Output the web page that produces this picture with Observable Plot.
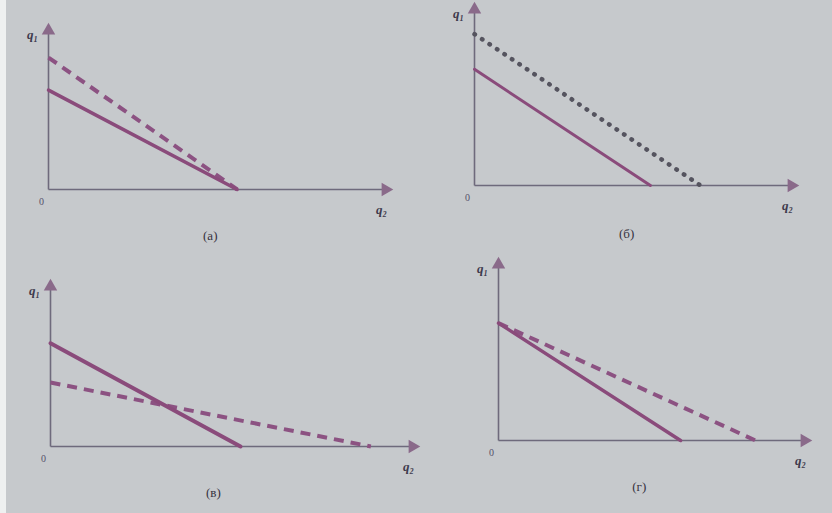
<!DOCTYPE html>
<html>
<head>
<meta charset="utf-8">
<script src="https://cdn.jsdelivr.net/npm/d3@7"></script>
<script src="https://cdn.jsdelivr.net/npm/@observablehq/plot@0.6"></script>
<style>
  html, body { margin: 0; padding: 0; }
  body { width: 832px; height: 513px; background: #c6c9cc; position: relative; overflow: hidden; }
  #edge { position: absolute; left: 0; top: 0; width: 6px; height: 513px; background: #eef0f0; }
  .panel { position: absolute; width: 416px; height: 257px; }
  .panel svg { background: transparent !important; overflow: visible; }
</style>
</head>
<body>
<div id="edge"></div>
<div id="p0" class="panel" style="left:0;top:0"></div>
<div id="p1" class="panel" style="left:416px;top:0"></div>
<div id="p2" class="panel" style="left:0;top:256px"></div>
<div id="p3" class="panel" style="left:416px;top:256px"></div>
<script>
// ---- data (axis units: 0..10 on both axes) ----
const panelLabels = ["(а)", "(б)", "(в)", "(г)"];
const solidQ1 = [6.25, 6.6, 6.45, 6.67];   // q1-intercept of solid line
const solidQ2 = [5.6, 5.55, 5.25, 5.95];   // q2-intercept of solid line
const altQ1   = [8.3, 8.6, 4.0, 6.67];     // q1-intercept of broken line
const altQ2   = [5.6, 7.13, 8.85, 8.4];    // q2-intercept of broken line
const altKind = ["dashed", "dotted", "dashed", "dashed"];
const axisMax = 10;

// ---- layout (pixel ranges per panel) ----
const layout = [
  {x: [48, 385], y: [189, 30]},
  {x: [58, 375], y: [185, 9]},
  {x: [50, 412], y: [190, 30]},
  {x: [82, 388], y: [184, 8]}
];
const captionDy = [46, 48, 46, 46];
const captionX = [4.8, 4.8, 4.5, 4.6];

const solidColor = "#8a4b7b";
const axisColor = "#6e6a7c";
const solidWidth = [3.5, 3, 4, 3.5];
const altStyle = {
  dashed: {stroke: "#8c5282", strokeDasharray: "10,7", strokeWidth: 4, strokeLinecap: "butt"},
  dotted: {stroke: "#55545f", strokeDasharray: "0.5,8.5", strokeWidth: 4.5, strokeLinecap: "round"}
};

panelLabels.forEach((label, i) => {
  const solid = [{q2: 0, q1: solidQ1[i]}, {q2: solidQ2[i], q1: 0}];
  const alt = [{q2: 0, q1: altQ1[i]}, {q2: altQ2[i], q1: 0}];
  const axes = [
    {x1: 0, y1: 0, x2: axisMax, y2: 0, rot: 90},
    {x1: 0, y1: 0, x2: 0, y2: axisMax, rot: 0}
  ];
  const chart = Plot.plot({
    width: 416,
    height: 257,
    margin: 0,
    style: {background: "transparent", fontFamily: "Liberation Serif, DejaVu Serif, serif"},
    x: {domain: [0, axisMax], range: layout[i].x, axis: null},
    y: {domain: [0, axisMax], range: layout[i].y, axis: null},
    marks: [
      Plot.link(axes, {x1: "x1", y1: "y1", x2: "x2", y2: "y2", stroke: axisColor, strokeWidth: 1.6}),
      Plot.dot(axes, {x: "x2", y: "y2", symbol: "triangle", rotate: "rot", r: 5, fill: "#8a6a8a", stroke: "none"}),
      Plot.line(alt, {x: "q2", y: "q1", ...altStyle[altKind[i]]}),
      Plot.line(solid, {x: "q2", y: "q1", stroke: solidColor, strokeWidth: solidWidth[i]}),
      Plot.text([0], {x: 0, y: axisMax, text: () => "q₁", dx: -16, dy: 4, fontSize: 13, fill: "#3e3a4c", fontStyle: "italic", fontWeight: "bold"}),
      Plot.text([0], {x: axisMax, y: 0, text: () => "q₂", dx: -4, dy: 20, fontSize: 13, fill: "#3e3a4c", fontStyle: "italic", fontWeight: "bold"}),
      Plot.text([0], {x: 0, y: 0, text: () => "0", dx: -7, dy: 12, fontSize: 10, fill: "#55516a"}),
      Plot.text([label], {x: captionX[i], y: 0, text: d => d, dy: captionDy[i], fontSize: 13, fill: "#36323f"})
    ]
  });
  document.getElementById("p" + i).appendChild(chart);
});
</script>
</body>
</html>
